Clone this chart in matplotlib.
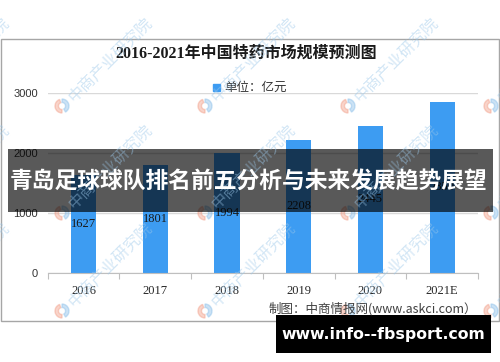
import numpy as np
import matplotlib.pyplot as plt
from matplotlib.patches import Rectangle, Wedge

years = ["2016", "2017", "2018", "2019", "2020", "2021E"]
market = [1627, 1801, 1994, 2208, 2445, 2850]
yticks = [0, 1000, 2000, 3000]

title = "2016-2021年中国特药市场规模预测图"
legend_label = "单位：亿元"
source = "制图：中商情报网(www.askci.com）"
banner = "青岛足球球队排名前五分析与未来发展趋势展望"
site = "www.info--fbsport.com"
watermark = "中商产业研究院"

bar_color = "#3d9cf2"
cjk = ["Noto Sans CJK SC", "DejaVu Sans"]

fig = plt.figure(figsize=(5, 3.62), dpi=100)
fig.patch.set_facecolor("white")

# main chart
ax = fig.add_axes([0.0954, 0.2467, 0.8606, 0.4972])
x = np.arange(len(years))
bars = ax.bar(x, market, width=0.35, color=bar_color, zorder=2)
ax.set_xlim(-0.5, len(years) - 0.5)
ax.set_ylim(0, 3000)

ax.set_yticks(yticks)
ax.set_yticklabels([str(v) for v in yticks], family="Liberation Sans",
                   fontsize=8, color="#333333")
ax.tick_params(axis="y", length=0, pad=7)
ax.yaxis.grid(True, color="#d9d9d9", lw=1)
ax.set_axisbelow(True)

ax.set_xticks(np.arange(-0.5, len(years), 1))
ax.set_xticklabels([])
ax.tick_params(axis="x", which="major", length=4, color="#bfbfbf", direction="out")
ax.set_xticks(x, minor=True)
ax.set_xticklabels(years, minor=True, family="Liberation Serif", fontsize=9,
                   color="#262626")
ax.tick_params(axis="x", which="minor", length=0, pad=9)
for s in ["top", "right", "left"]:
    ax.spines[s].set_visible(False)
ax.spines["bottom"].set_color("#bfbfbf")

ax.bar_label(bars, labels=[str(v) for v in market], label_type="center",
             family="Liberation Serif", fontsize=9, color="#1a1a1a")

# overlay in pixel coords
ov = fig.add_axes([0, 0, 1, 1], zorder=5)
ov.set_xlim(0, 500)
ov.set_ylim(362, 0)
ov.axis("off")
ov.patch.set_alpha(0)

ov.add_patch(Rectangle((1, 39), 498, 282, fill=False, ec="#a6a6a6", lw=1))
ov.text(246, 54, title, ha="center", va="center", fontsize=11.5,
        fontweight="bold", family=["Liberation Serif", "Noto Sans CJK SC"],
        color="#1a1a1a")
ov.add_patch(Rectangle((213, 83.5), 7, 7, color=bar_color))
ov.text(224, 87, legend_label, ha="left", va="center", fontsize=9,
        family=cjk, color="#333333")
ov.text(477, 309, source, ha="right", va="center", fontsize=9,
        family=cjk, color="#404040")

# watermarks
for cx in [-81, 62, 205, 348, 491]:
    for cy in [106, 213, 311]:
        ov.add_patch(Wedge((cx, cy), 7, 90, 250, width=3.5, color="#f2a08a", alpha=0.45))
        ov.add_patch(Wedge((cx, cy), 7, 270, 60, width=3.5, color="#8cc0ea", alpha=0.45))
        ov.text(cx + 9, cy - 6, watermark, rotation=45, rotation_mode="anchor",
                ha="left", va="center", fontsize=11.5, family=cjk,
                color="#9cc8ea", alpha=0.45)

# banners
ov.add_patch(Rectangle((8, 149), 485, 63, color="black", alpha=0.65, lw=0))
ov.text(249, 181, banner, ha="center", va="center", fontsize=16.4,
        fontweight="bold", family=cjk, color="white")
ov.add_patch(Rectangle((276, 315), 215, 38, color="black", lw=0))
ov.text(383, 334, site, ha="center", va="center", fontsize=11.3,
        fontweight="bold", family="DejaVu Sans", color="white")

fig.savefig("out.png", dpi=100)
